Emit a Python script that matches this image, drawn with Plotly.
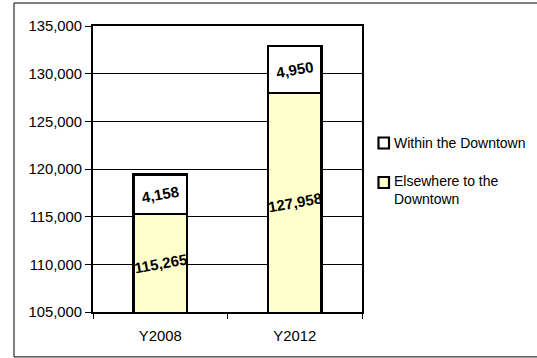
import plotly.graph_objects as go

categories = ["Y2008", "Y2012"]
elsewhere = [115265, 127958]
within = [4158, 4950]
series_names = ["Within the Downtown", "Elsewhere to the<br>Downtown"]
series_colors = ["white", "#FFFFCC"]
y_min, y_max = 105000, 135000

label_font = dict(family="Liberation Sans, Arial", size=15, color="black")

fig = go.Figure()
fig.add_trace(go.Bar(
    x=categories, y=elsewhere, name=series_names[1],
    marker=dict(color=series_colors[1], line=dict(color="black", width=2.5)),
    width=0.4, textposition="none",
))
fig.add_trace(go.Bar(
    x=categories, y=within, name=series_names[0],
    marker=dict(color=series_colors[0], line=dict(color="black", width=2.5)),
    width=0.4,
    texttemplate="<b>%{y:,}</b>", textposition="inside", insidetextanchor="middle",
    textangle=-10, textfont=label_font,
))

# labels of the lower segment, centred on its visible part
for cat, val in zip(categories, elsewhere):
    fig.add_annotation(x=cat, y=(y_min + val) / 2, text=f"<b>{val:,}</b>",
                       showarrow=False, textangle=-10, font=label_font)

# legend drawn as key squares + text (placed to the right of the plot area)
legend_rows = [(0.6101, 0.5717, 0.5909), (0.4720, 0.4336, 0.4266)]
shapes = [dict(type="rect", xref="paper", yref="paper",
               x0=-0.2937, x1=1.75, y0=-0.157, y1=1.0804,
               line=dict(color="black", width=1))]
for name, color, (ya, yb, yt) in zip(series_names, series_colors, legend_rows):
    shapes.append(dict(type="rect", xref="paper", yref="paper",
                       x0=1.0613, x1=1.1004, y0=yb, y1=ya,
                       fillcolor=color, line=dict(color="black", width=2.2)))
    fig.add_annotation(xref="paper", yref="paper", x=1.111, y=yt, text=name,
                       xanchor="left", yanchor="middle", align="left",
                       showarrow=False, font=dict(size=14))

fig.update_layout(
    barmode="stack",
    width=537, height=358,
    margin=dict(l=93, r=175, t=26, b=46),
    paper_bgcolor="white", plot_bgcolor="white",
    font=dict(family="Liberation Sans, Arial", size=14, color="black"),
    showlegend=False,
    uniformtext=dict(mode=False),
    shapes=shapes,
)
fig.update_yaxes(range=[y_min, y_max], dtick=5000, tickformat=",",
                 showgrid=True, gridcolor="black", gridwidth=1,
                 ticks="outside", ticklen=6, tickcolor="black",
                 showline=True, linecolor="black", linewidth=2, mirror=True,
                 tickfont=dict(size=14.8), zeroline=False)
fig.update_xaxes(showline=True, linecolor="black", linewidth=2, mirror=True,
                 ticks="outside", tickson="boundaries", ticklen=5, tickcolor="black",
                 tickfont=dict(size=14.8), showgrid=False, ticklabelstandoff=9)

fig.write_html("out.html")
